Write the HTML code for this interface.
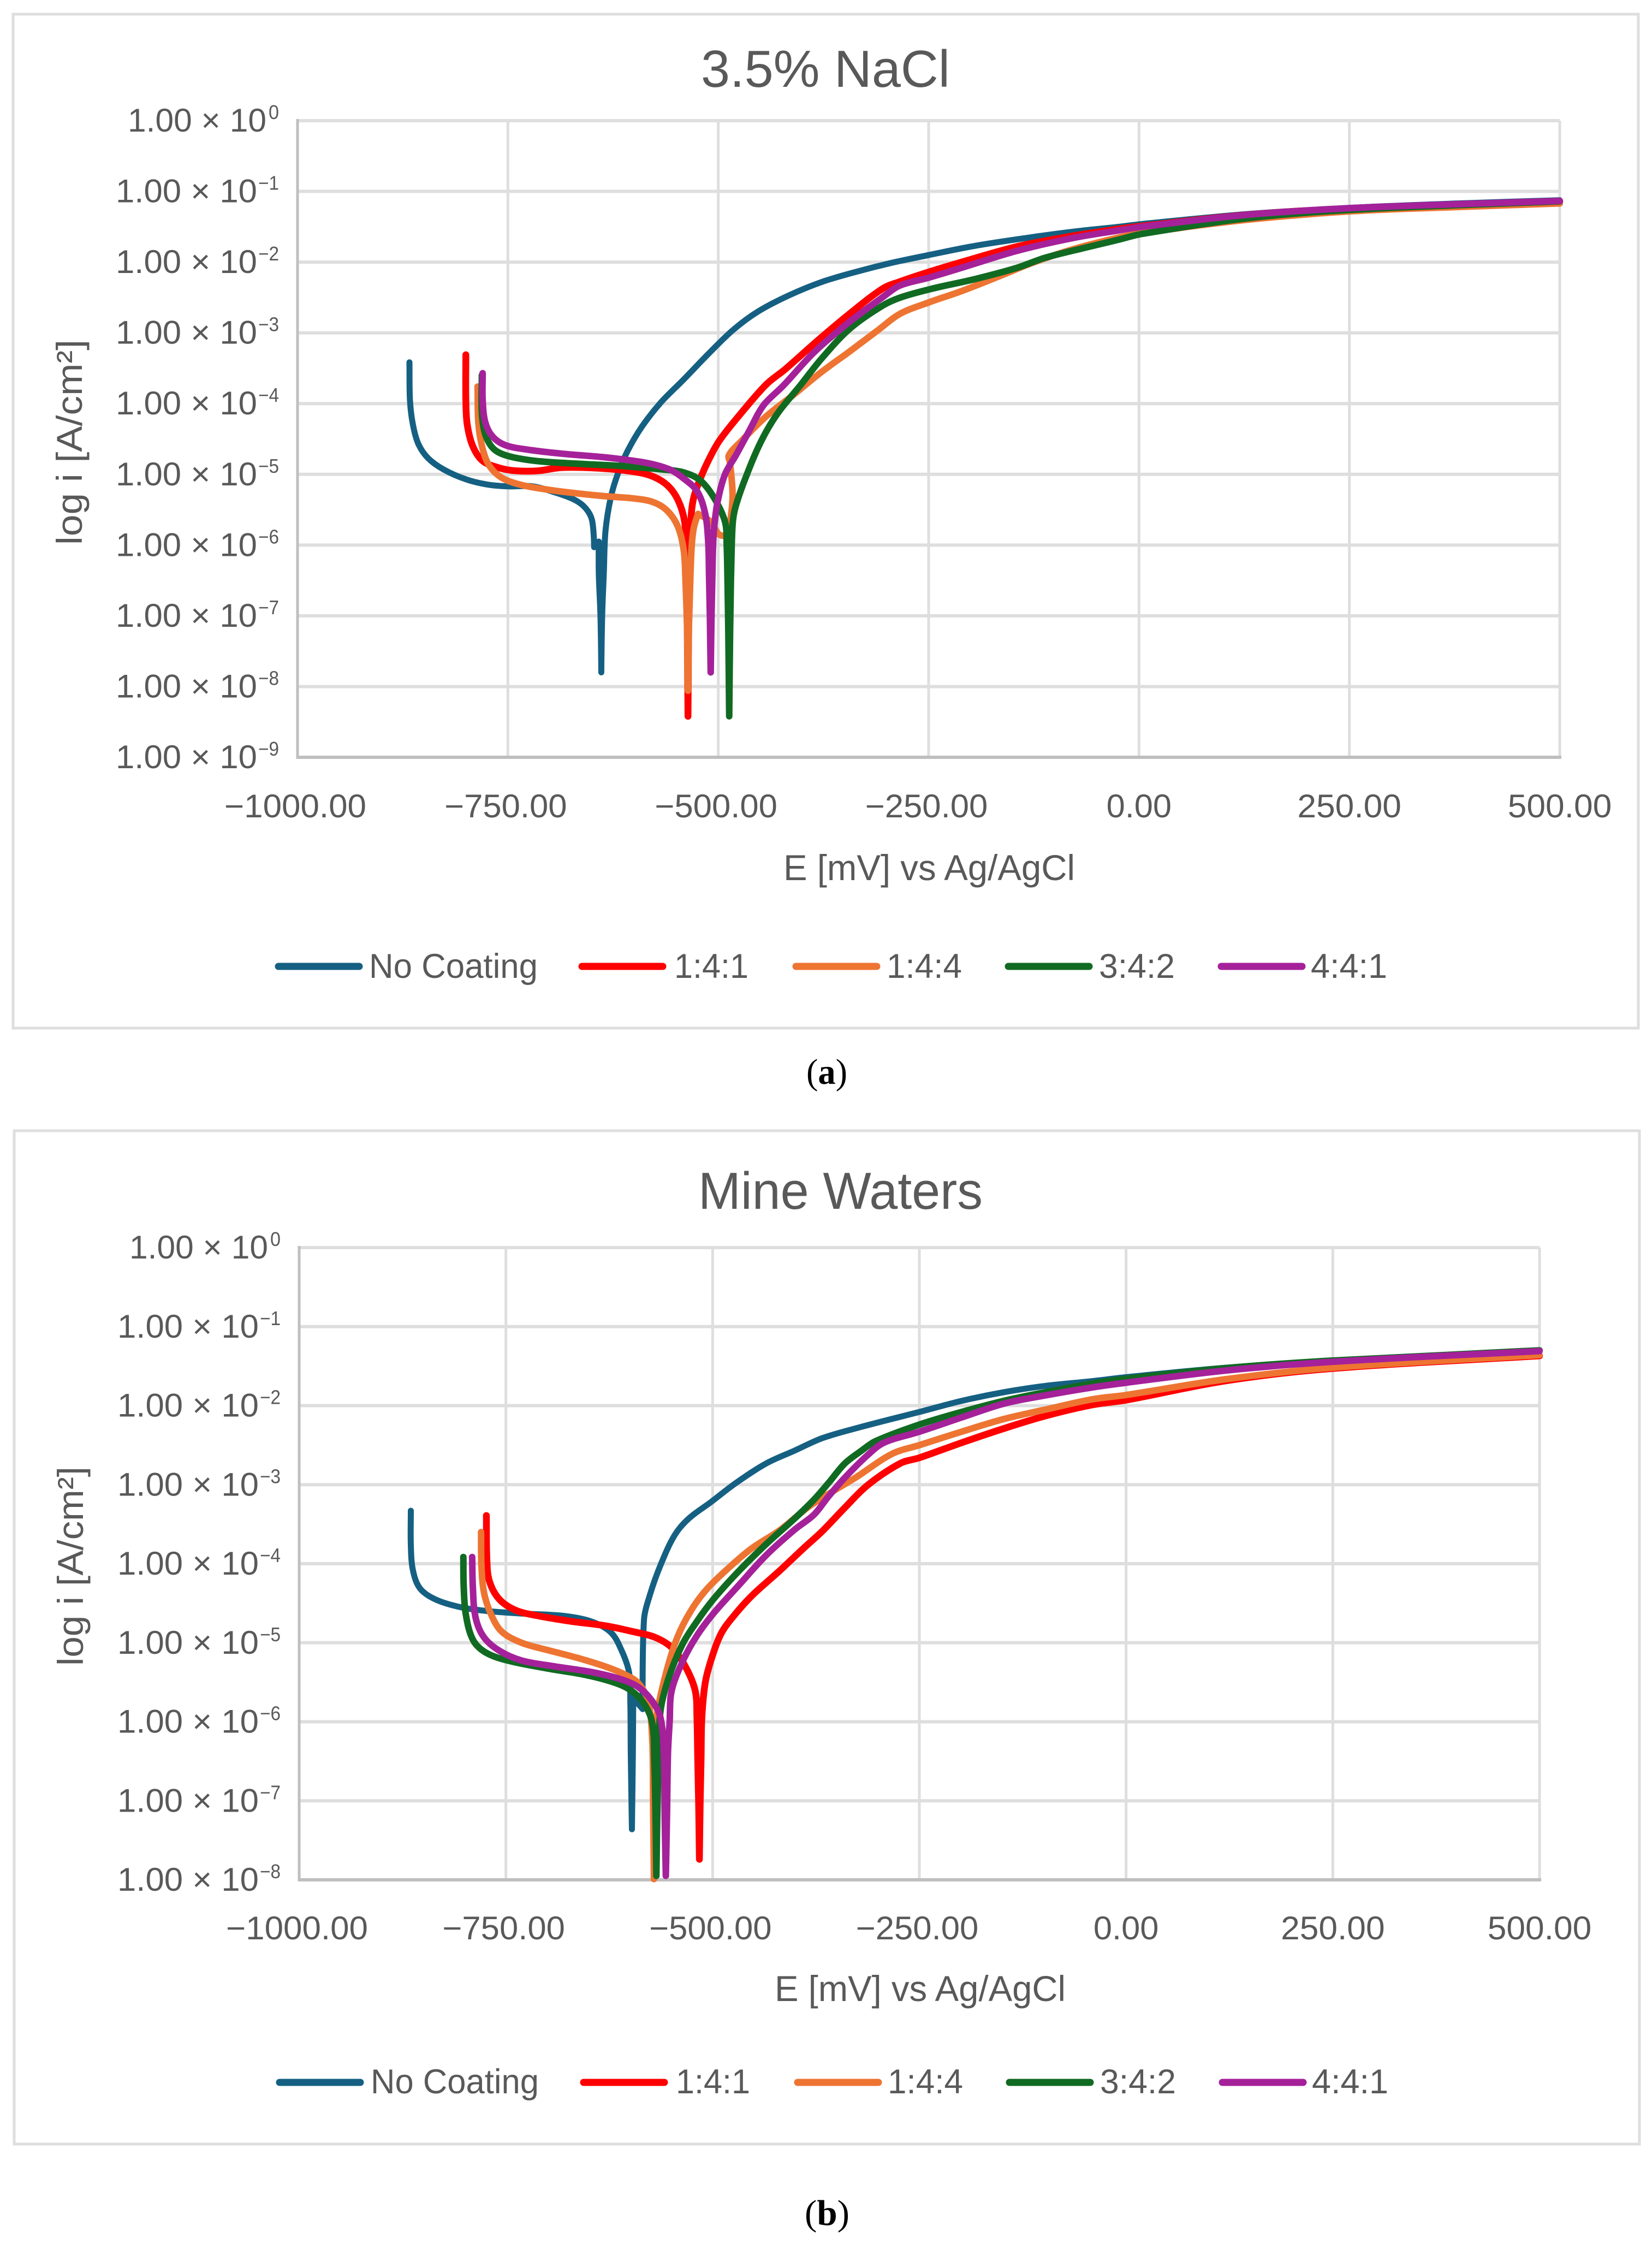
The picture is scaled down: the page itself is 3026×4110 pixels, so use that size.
<!DOCTYPE html>
<html lang="en">
<head>
<meta charset="utf-8">
<title>Polarization curves: 3.5% NaCl and Mine Waters</title>
<style>
html,body{margin:0;padding:0;background:#fff;}
svg{display:block;}
text{font-family:"Liberation Sans",sans-serif;fill:#595959;}
.cap{font-family:"Liberation Serif",serif;fill:#000;}
</style>
</head>
<body>
<svg id="root" xmlns="http://www.w3.org/2000/svg" width="3026" height="4110" viewBox="0 0 3026 4110">
  <rect x="0" y="0" width="3026" height="4110" fill="#fff"/>
  <rect x="24" y="26" width="2977" height="1857" fill="#fff" stroke="#DEDEDE" stroke-width="5"/>
  <rect x="26" y="2071" width="2977" height="1856" fill="#fff" stroke="#DEDEDE" stroke-width="5"/>
  <text x="1284" y="159" font-size="96" textLength="456" lengthAdjust="spacingAndGlyphs">3.5% NaCl</text>
  <text x="1279" y="2214" font-size="96" textLength="521" lengthAdjust="spacingAndGlyphs">Mine Waters</text>
  <text x="1435" y="1612" font-size="66" textLength="534" lengthAdjust="spacingAndGlyphs">E [mV] vs Ag/AgCl</text>
  <text x="1419" y="3665" font-size="66" textLength="533" lengthAdjust="spacingAndGlyphs">E [mV] vs Ag/AgCl</text>
  <text transform="translate(150,998) rotate(-90)" x="0" y="0" font-size="66" textLength="376" lengthAdjust="spacingAndGlyphs">log i [A/cm²]</text>
  <text transform="translate(152,3051) rotate(-90)" x="0" y="0" font-size="66" textLength="365" lengthAdjust="spacingAndGlyphs">log i [A/cm²]</text>
  <text class="cap" x="1477" y="1985" font-size="66" textLength="75" lengthAdjust="spacingAndGlyphs">(<tspan class="cap" font-weight="bold">a</tspan>)</text>
  <text class="cap" x="1474" y="4075" font-size="66" textLength="82" lengthAdjust="spacingAndGlyphs">(<tspan class="cap" font-weight="bold">b</tspan>)</text>
  <g id="chart-a"></g>
  <g id="chart-b"></g>
</svg>
<script>
const xTickValues = [-1000, -750, -500, -250, 0, 250, 500];
const naclExponents = [0, -1, -2, -3, -4, -5, -6, -7, -8, -9];
const mineExponents = [0, -1, -2, -3, -4, -5, -6, -7, -8];
const seriesNames = ['No Coating', '1:4:1', '1:4:4', '3:4:2', '4:4:1'];

/* Each point is [E in mV, log10 of i in A/cm2] */
/* Chart (a): 3.5% NaCl */
const naclNoCoating = [[-867,-3.416],[-866.4,-3.95],[-863,-4.29],[-856.4,-4.57],[-845,-4.77],[-826.6,-4.93],[-800,-5.07],[-773.5,-5.146],[-750,-5.17],[-720.5,-5.17],[-694,-5.256],[-670.8,-5.36],[-657.5,-5.48],[-650,-5.65],[-647.5,-6.03],[-642,-5.95],[-642,-6.4],[-640,-7.0],[-639,-7.8],[-638,-7.0],[-636,-6.4],[-634,-5.8],[-627.6,-5.32],[-619,-4.98],[-607.8,-4.67],[-591,-4.33],[-568,-3.98],[-542,-3.67],[-512,-3.30],[-482.5,-2.96],[-453,-2.70],[-416,-2.47],[-377,-2.28],[-337,-2.14],[-294,-2.01],[-250,-1.90],[-195,-1.77],[-129,-1.65],[-79,-1.57],[-23.5,-1.50],[3.7,-1.46],[129,-1.32],[254,-1.23],[379,-1.17],[500,-1.125]];

const nacl141 = [[-800,-3.31],[-800,-3.95],[-798.4,-4.29],[-791.8,-4.60],[-780,-4.81],[-760,-4.91],[-740.4,-4.95],[-714,-4.95],[-687,-4.905],[-647.5,-4.91],[-608,-4.95],[-581,-5.015],[-561,-5.15],[-548,-5.36],[-540,-5.67],[-538.5,-6.1],[-537,-7.0],[-536,-8.42],[-535,-7.0],[-533.5,-6.1],[-532,-5.56],[-529,-5.32],[-522,-5.08],[-512,-4.81],[-499,-4.53],[-476,-4.18],[-443,-3.73],[-420,-3.51],[-383,-3.12],[-344,-2.73],[-304,-2.37],[-284,-2.275],[-250,-2.14],[-211,-2.0],[-145,-1.78],[-79,-1.63],[-23.5,-1.53],[3.7,-1.49],[129,-1.33],[254,-1.24],[500,-1.14]];

const nacl144 = [[-786,-3.76],[-785,-4.29],[-780,-4.64],[-772,-4.88],[-757,-5.05],[-734,-5.15],[-700.6,-5.22],[-667,-5.27],[-634,-5.31],[-601,-5.34],[-578,-5.39],[-561,-5.51],[-548,-5.74],[-541,-6.08],[-539,-6.5],[-537,-7.2],[-536,-8.06],[-535,-7.2],[-533,-6.4],[-531.5,-6.0],[-529,-5.75],[-524,-5.56],[-509,-5.67],[-499,-5.85],[-488,-5.87],[-483,-5.32],[-486,-4.84],[-487.4,-4.73],[-472.6,-4.53],[-443,-4.18],[-410,-3.87],[-377,-3.55],[-343.6,-3.26],[-310,-2.96],[-284,-2.73],[-250,-2.57],[-211,-2.41],[-162,-2.18],[-129,-2.02],[-79,-1.82],[-23.5,-1.65],[3.7,-1.59],[129,-1.40],[254,-1.28],[379,-1.22],[500,-1.17]];

const nacl342 = [[-781,-3.6],[-781,-4.12],[-777,-4.43],[-767,-4.64],[-750,-4.74],[-717,-4.81],[-667.4,-4.85],[-618,-4.88],[-568,-4.93],[-542,-4.97],[-522,-5.08],[-505.6,-5.32],[-492,-5.67],[-490,-6.0],[-489,-6.5],[-488,-7.3],[-487,-8.42],[-486,-7.3],[-485,-6.5],[-484,-6.0],[-482.5,-5.65],[-479,-5.44],[-467.6,-5.05],[-449,-4.53],[-429.6,-4.14],[-403,-3.75],[-377,-3.36],[-343.6,-2.94],[-304,-2.61],[-281,-2.49],[-244,-2.37],[-195,-2.24],[-145,-2.08],[-112,-1.94],[-62,-1.79],[-23.5,-1.68],[3.7,-1.60],[129,-1.38],[254,-1.26],[500,-1.14]];

const nacl441 = [[-780,-3.57],[-780,-3.95],[-777,-4.26],[-768.6,-4.46],[-753.6,-4.585],[-727,-4.65],[-684,-4.71],[-634,-4.76],[-584.5,-4.84],[-558,-4.93],[-542,-5.05],[-525,-5.24],[-515.5,-5.56],[-512,-5.95],[-511,-6.4],[-510,-7.0],[-509,-7.8],[-508,-7.0],[-507,-6.4],[-506,-5.95],[-504.5,-5.71],[-501,-5.40],[-492,-5.0],[-479,-4.73],[-463,-4.38],[-446,-4.02],[-423,-3.75],[-386.6,-3.28],[-343.6,-2.84],[-304,-2.49],[-284,-2.33],[-250,-2.22],[-211,-2.08],[-145,-1.84],[-79,-1.66],[-23.5,-1.55],[3.7,-1.50],[129,-1.33],[254,-1.235],[379,-1.18],[500,-1.135]];

/* Chart (b): Mine Waters */
const mineNoCoating = [[-865,-3.33],[-865,-3.76],[-862.5,-4.08],[-854,-4.31],[-835.6,-4.45],[-805,-4.55],[-771.6,-4.60],[-731,-4.63],[-680.6,-4.66],[-647,-4.73],[-623,-4.87],[-610,-5.10],[-601,-5.38],[-599.5,-5.75],[-599,-6.4],[-597.6,-7.36],[-596.5,-6.4],[-596,-5.70],[-584.6,-5.84],[-583,-4.71],[-576,-4.40],[-562.7,-4.01],[-546,-3.64],[-529,-3.43],[-502,-3.22],[-472,-2.98],[-435,-2.73],[-401,-2.57],[-367,-2.41],[-317,-2.26],[-250,-2.08],[-199,-1.94],[-148,-1.83],[-97.5,-1.75],[-41,-1.69],[0,-1.64],[115,-1.525],[249,-1.43],[370,-1.37],[500,-1.30]];

const mine141 = [[-773.6,-3.39],[-773,-3.94],[-770,-4.22],[-758,-4.45],[-738,-4.59],[-711,-4.66],[-670.5,-4.73],[-630,-4.785],[-596,-4.86],[-570,-4.93],[-549.6,-5.06],[-533,-5.30],[-521,-5.61],[-519,-5.95],[-518,-6.5],[-517,-7.0],[-516,-7.74],[-515,-7.0],[-514,-6.5],[-513,-5.95],[-509,-5.51],[-501,-5.19],[-489,-4.87],[-472,-4.63],[-452,-4.40],[-418,-4.08],[-388,-3.785],[-367.5,-3.59],[-340,-3.29],[-313,-3.01],[-273,-2.73],[-250,-2.66],[-199,-2.47],[-148,-2.29],[-97.5,-2.13],[-41,-1.99],[0,-1.93],[121,-1.685],[249,-1.53],[500,-1.37]];

const mine144 = [[-780,-3.6],[-779.6,-4.01],[-776.6,-4.36],[-768,-4.64],[-755,-4.86],[-731,-5.0],[-697,-5.10],[-664,-5.19],[-630,-5.30],[-606.5,-5.40],[-590,-5.51],[-578,-5.74],[-573,-6.23],[-572,-7.0],[-571,-7.99],[-570,-7.0],[-569,-6.23],[-566.5,-5.86],[-556,-5.37],[-543,-4.94],[-526,-4.59],[-506,-4.31],[-475,-4.0],[-452,-3.80],[-418,-3.57],[-384,-3.28],[-354,-3.08],[-327,-2.91],[-283,-2.61],[-250,-2.50],[-199,-2.33],[-148,-2.17],[-97.5,-2.05],[-41,-1.92],[0,-1.865],[121,-1.665],[249,-1.52],[500,-1.36]];

const mine342 = [[-801.5,-3.915],[-801,-4.29],[-798.5,-4.64],[-790,-4.96],[-775,-5.12],[-748,-5.225],[-697.4,-5.33],[-657,-5.40],[-623,-5.49],[-600,-5.595],[-583,-5.77],[-573,-6.02],[-570.5,-6.50],[-569,-7.2],[-568,-7.95],[-567,-7.2],[-565.5,-6.50],[-563,-5.86],[-553,-5.44],[-536,-5.01],[-519,-4.73],[-499,-4.45],[-469,-4.10],[-435,-3.75],[-401,-3.43],[-377.5,-3.19],[-360,-2.98],[-340,-2.73],[-320,-2.57],[-303,-2.45],[-250,-2.24],[-199,-2.08],[-148,-1.94],[-97.5,-1.83],[-41,-1.72],[0,-1.66],[121,-1.525],[249,-1.43],[500,-1.30]];

const mine441 = [[-790.8,-3.915],[-790,-4.29],[-786.7,-4.68],[-776.6,-4.93],[-758,-5.10],[-731,-5.225],[-690.7,-5.30],[-647,-5.37],[-613,-5.455],[-590,-5.56],[-573,-5.74],[-563,-5.95],[-559,-6.40],[-558,-7.2],[-556.6,-7.95],[-555.2,-7.2],[-554,-6.40],[-552,-6.0],[-549.6,-5.61],[-536,-5.23],[-519,-4.91],[-499,-4.63],[-469,-4.28],[-435,-3.89],[-401,-3.57],[-377.5,-3.38],[-360,-3.15],[-340,-2.91],[-313,-2.63],[-293,-2.47],[-250,-2.33],[-199,-2.15],[-148,-1.975],[-97.5,-1.87],[-41,-1.77],[0,-1.71],[121,-1.555],[249,-1.445],[500,-1.31]];

const SVG_NS = 'http://www.w3.org/2000/svg';
const seriesColors = ['#156082', '#FF0000', '#EE7432', '#116A22', '#A5219A'];
const seriesStrokes = [11, 12.5, 12, 12, 12];

function make(parent, tag, attrs, content) {
  const el = document.createElementNS(SVG_NS, tag);
  for (const k in attrs) el.setAttribute(k, attrs[k]);
  if (content !== undefined) el.textContent = content;
  parent.appendChild(el);
  return el;
}

function smoothPath(pts) {
  const n = pts.length;
  const tan = [];
  for (let i = 0; i < n; i++) {
    const a = pts[Math.max(i - 1, 0)];
    const b = pts[i];
    const c = pts[Math.min(i + 1, n - 1)];
    const dot = (b[0] - a[0]) * (c[0] - b[0]) + (b[1] - a[1]) * (c[1] - b[1]);
    const dx = c[0] - a[0];
    const dy = c[1] - a[1];
    const len = Math.hypot(dx, dy);
    if (dot < 0 || len < 1e-6) tan.push([0, 0]);
    else tan.push([dx / len, dy / len]);
  }
  let d = 'M' + pts[0][0].toFixed(1) + ' ' + pts[0][1].toFixed(1);
  for (let i = 0; i < n - 1; i++) {
    const p = pts[i];
    const q = pts[i + 1];
    const L = Math.hypot(q[0] - p[0], q[1] - p[1]) / 3;
    d += 'C' + (p[0] + tan[i][0] * L).toFixed(1) + ' ' + (p[1] + tan[i][1] * L).toFixed(1) + ' ' +
         (q[0] - tan[i + 1][0] * L).toFixed(1) + ' ' + (q[1] - tan[i + 1][1] * L).toFixed(1) + ' ' +
         q[0].toFixed(1) + ' ' + q[1].toFixed(1);
  }
  return d;
}

function formatX(v) {
  const s = Math.abs(v).toFixed(2);
  return (v < 0 ? '\u2212' : '') + s;
}

function xLabelWidth(v) {
  const digits = Math.abs(v).toFixed(2).length - 1;
  return digits * 35.5 + 13 + (v < 0 ? 34 : 0);
}

function drawChart(host, key, cfg, exponents, seriesData) {
  const xOf = function (e) { return cfg.left + (e + 1000) * (cfg.right - cfg.left) / 1500; };
  const yTop = exponents[0];
  const yBottom = exponents[exponents.length - 1];
  const yOf = function (l) { return cfg.top + (yTop - l) * (cfg.bottom - cfg.top) / (yTop - yBottom); };

  exponents.forEach(function (exp) {
    if (exp === yBottom) return;
    const y = yOf(exp);
    const line = make(host, 'line', { x1: cfg.left, x2: cfg.right, y1: y, y2: y, stroke: '#DEDEDE', 'stroke-width': 6 });
    
    
  });
  xTickValues.forEach(function (v) {
    if (v === -1000) return;
    const x = xOf(v);
    const line = make(host, 'line', { x1: x, x2: x, y1: cfg.top, y2: cfg.bottom, stroke: '#DEDEDE', 'stroke-width': 5 });
    
    
  });

  const yAxis = make(host, 'line', { x1: cfg.left, x2: cfg.left, y1: cfg.top - 3, y2: cfg.bottom + 3, stroke: '#BFBFBF', 'stroke-width': 5 });
  
  
  const xAxis = make(host, 'line', { x1: cfg.left, x2: cfg.right + 3, y1: cfg.bottom, y2: cfg.bottom, stroke: '#BFBFBF', 'stroke-width': 6 });
  
  

  exponents.forEach(function (exp) {
    const y = yOf(exp);
    const neg = exp < 0;
    const mainEnd = cfg.left - (neg ? 74 : 57);
    const mainW = neg ? 259 : 254;
    const main = make(host, 'text', { x: mainEnd - mainW, y: y + 20, 'font-size': 60, textLength: mainW, lengthAdjust: 'spacingAndGlyphs' }, '1.00 \u00d7 10');
    
    
    const supText = neg ? '\u2212' + Math.abs(exp) : String(exp);
    const supW = neg ? 38 : 19;
    const sup = make(host, 'text', { x: cfg.left - 34 - supW, y: y - 3, 'font-size': 36, textLength: supW, lengthAdjust: 'spacingAndGlyphs' }, supText);
    
    
  });

  xTickValues.forEach(function (v) {
    const w = xLabelWidth(v);
    const cx = xOf(v) - (v < 0 ? 4 : 0);
    const label = make(host, 'text', { x: cx - w / 2, y: cfg.tickBase, 'font-size': 60, textLength: w, lengthAdjust: 'spacingAndGlyphs' }, formatX(v));
    
    
  });

  seriesNames.forEach(function (name, i) {
    const pts = seriesData[i].map(function (p) { return [xOf(p[0]), yOf(p[1])]; });
    const path = make(host, 'path', { d: smoothPath(pts), fill: 'none', stroke: seriesColors[i], 'stroke-width': seriesStrokes[i], 'stroke-linecap': 'round', 'stroke-linejoin': 'round' });
    
    
  });

  seriesNames.forEach(function (name, i) {
    const g = make(host, 'g', {});
    
    
    const swatch = make(g, 'line', { x1: cfg.legendLine[i] + 6, x2: cfg.legendLine[i] + 154, y1: cfg.legendY, y2: cfg.legendY, stroke: seriesColors[i], 'stroke-width': 13, 'stroke-linecap': 'round' });
    
    
    const label = make(g, 'text', { x: cfg.legendText[i], y: cfg.legendBase, 'font-size': 63, textLength: cfg.legendWidth[i], lengthAdjust: 'spacingAndGlyphs' }, name);
    
    
  });
}

drawChart(document.getElementById('chart-a'), 'nacl',
  { left: 545, right: 2857, top: 221, bottom: 1387, tickBase: 1497, legendY: 1770, legendBase: 1791,
    legendLine: [504, 1060, 1452, 1841, 2231], legendText: [676, 1235, 1624, 2013, 2401], legendWidth: [309, 136, 138, 139, 140] },
  naclExponents,
  [naclNoCoating, nacl141, nacl144, nacl342, nacl441]);

drawChart(document.getElementById('chart-b'), 'mine',
  { left: 548, right: 2820, top: 2285, bottom: 3443, tickBase: 3552, legendY: 3814, legendBase: 3834,
    legendLine: [506, 1063, 1455, 1843, 2233], legendText: [679, 1238, 1626, 2015, 2403], legendWidth: [308, 136, 138, 139, 140] },
  mineExponents,
  [mineNoCoating, mine141, mine144, mine342, mine441]);
</script>
</body>
</html>
